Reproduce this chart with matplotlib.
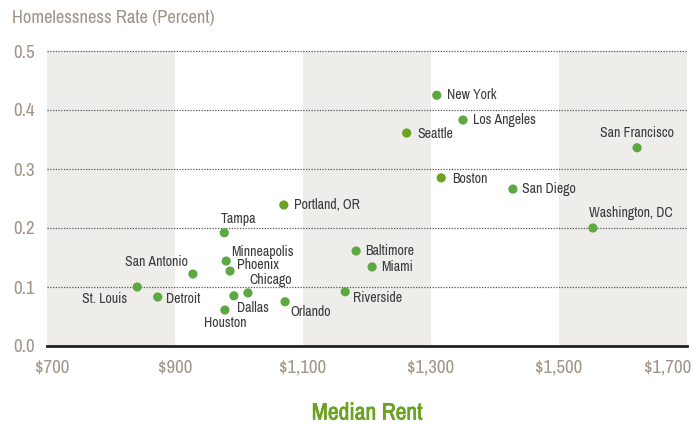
import matplotlib
matplotlib.use('Agg')
import matplotlib.pyplot as plt
import matplotlib.transforms as mtransforms
import matplotlib.patheffects as pe
from matplotlib import font_manager

# the reference uses a condensed face; take one if the system has it
condensed = [f for f in font_manager.fontManager.ttflist
             if f.stretch in ('condensed', 'semi-condensed', 'extra-condensed')
             or 'Narrow' in f.name or 'Condensed' in f.name]
cond_names = sorted(set(f.name for f in condensed))
if cond_names:
    family = cond_names[0]
    plt.rcParams['font.family'] = [family, 'DejaVu Sans']
    plt.rcParams['font.stretch'] = 'condensed'
    scale = 1.0
    has_bold = any(f.name == family and str(f.weight) in ('bold', '700', '600', 'semibold', 'heavy', '800')
                   for f in condensed)
else:
    plt.rcParams['font.family'] = ['Liberation Sans', 'DejaVu Sans']
    scale = 0.86
    has_bold = True

# data
cities = ['New York', 'Los Angeles', 'Seattle', 'San Francisco', 'Boston',
          'San Diego', 'Washington, DC', 'Portland, OR', 'Tampa', 'Minneapolis',
          'Phoenix', 'San Antonio', 'Baltimore', 'Miami', 'St. Louis', 'Detroit',
          'Dallas', 'Chicago', 'Houston', 'Orlando', 'Riverside']
rent = [1309, 1350, 1262, 1622, 1316,
        1428, 1553, 1070, 977, 980,
        986, 928, 1183, 1208, 841, 873,
        992, 1014, 978, 1072, 1166]
rate = [0.425, 0.383, 0.361, 0.336, 0.285,
        0.266, 0.200, 0.239, 0.192, 0.144,
        0.127, 0.122, 0.161, 0.134, 0.100, 0.083,
        0.085, 0.090, 0.061, 0.075, 0.092]
x_ticks = [700, 900, 1100, 1300, 1500, 1700]
x_tick_labels = ['$700', '$900', '$1,100', '$1,300', '$1,500', '$1,700']
y_ticks = [0.0, 0.1, 0.2, 0.3, 0.4, 0.5]

# style
dot_green = '#5ea843'
dot_olive = '#6aa321'
olive_cities = {'Seattle', 'Boston', 'Portland, OR'}
tick_color = '#a09488'
label_color = '#3a3a3a'
band_color = '#efedea'

# label offsets in pixels (dx, dy, ha)
label_pos = {
    'New York': (10, 0, 'left'),
    'Los Angeles': (10, 0, 'left'),
    'Seattle': (11, -1, 'left'),
    'San Francisco': (0, 15, 'center'),
    'Boston': (11, -1, 'left'),
    'San Diego': (9, 0, 'left'),
    'Washington, DC': (-4, 15, 'left'),
    'Portland, OR': (10, 0, 'left'),
    'Tampa': (-4, 14, 'left'),
    'Minneapolis': (5, 9, 'left'),
    'Phoenix': (7, 6, 'left'),
    'San Antonio': (-5, 12, 'right'),
    'Baltimore': (9, 0, 'left'),
    'Miami': (9, 0, 'left'),
    'St. Louis': (-10, -12, 'right'),
    'Detroit': (8, -2, 'left'),
    'Dallas': (3, -12, 'left'),
    'Chicago': (1, 13, 'left'),
    'Houston': (0, -13, 'center'),
    'Orlando': (5, -10, 'left'),
    'Riverside': (8, -6, 'left'),
}

fig = plt.figure(figsize=(6.93, 4.25), dpi=100)
ax = fig.add_axes([47 / 693, 1 - 346 / 425, 640 / 693, 295 / 425])

for i in range(0, len(x_ticks) - 1, 2):
    ax.axvspan(x_ticks[i], x_ticks[i + 1], ymin=0, ymax=1, color=band_color, lw=0, zorder=0)

for y in y_ticks[1:]:
    ax.axhline(y, color='#555555', lw=0.9, ls=(0, (1, 1.2)), zorder=1, clip_on=False)

colors = [dot_olive if c in olive_cities else dot_green for c in cities]
ax.scatter(rent, rate, s=44, c=colors, edgecolors='none', zorder=3, clip_on=False)

for c, x, y in zip(cities, rent, rate):
    dx, dy, ha = label_pos[c]
    ax.annotate(c, (x, y), xytext=(dx * 0.72, dy * 0.72), textcoords='offset points',
                ha=ha, va='center', fontsize=10 * scale, color=label_color, zorder=4)

ax.set_xlim(700, 1700)
ax.set_ylim(0, 0.5)
ax.set_xticks(x_ticks)
ax.set_xticklabels(x_tick_labels)
ax.set_yticks(y_ticks)
ax.set_yticklabels(['{:.1f}'.format(v) for v in y_ticks])
ax.tick_params(axis='both', length=0, labelsize=13.5 * scale, labelcolor=tick_color)
ax.tick_params(axis='x', pad=10)
ax.tick_params(axis='y', pad=9)

labels = ax.get_xticklabels()
labels[0].set_transform(labels[0].get_transform() +
                        mtransforms.ScaledTranslation(5 / 100, 0, fig.dpi_scale_trans))
labels[-1].set_transform(labels[-1].get_transform() +
                         mtransforms.ScaledTranslation(-19 / 100, 0, fig.dpi_scale_trans))

for s in ['top', 'right', 'left']:
    ax.spines[s].set_visible(False)
ax.spines['bottom'].set_color('#222222')
ax.spines['bottom'].set_linewidth(2)
ax.spines['bottom'].set_zorder(5)

fig.text(12 / 693, 1 - 18 / 425, 'Homelessness Rate (Percent)', ha='left', va='center',
         fontsize=13.4 * scale, color=tick_color)
xl = fig.text(367 / 693, 1 - 413 / 425, 'Median Rent', ha='center', va='center',
              fontsize=17 * scale, fontweight='bold', color='#6aa121')
if not has_bold:
    # no bold condensed face: thicken the regular one a little
    xl.set_path_effects([pe.withStroke(linewidth=0.5, foreground='#6aa121')])

plt.savefig('out.png', dpi=100)
